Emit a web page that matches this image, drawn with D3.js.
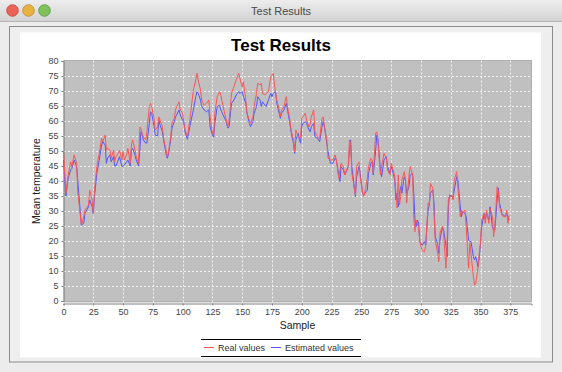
<!DOCTYPE html>
<html>
<head>
<meta charset="utf-8">
<script src="https://cdnjs.cloudflare.com/ajax/libs/d3/7.8.5/d3.min.js"></script>
<style>
  html, body { margin: 0; padding: 0; background: #ececec; }
  svg { display: block; font-family: "Liberation Sans", Arial, sans-serif; }
</style>
</head>
<body>
<svg id="chart" width="562" height="372"></svg>
<script>
// sample index, real temperature, estimated temperature
var samples = [0,2,4,6,7,9,11,12,13,15,17,18,21,22,24,25,26,28,30,32,33,35,36,37,39,40,42,43,44,46,47,49,50,51,53,54,56,57,58,60,61,63,64,65,66,67,69,70,72,73,74,76,77,79,80,81,83,84,86,87,88,90,91,93,94,95,97,98,
  100,101,102,104,106,109,111,112,113,115,116,118,120,122,123,125,126,127,129,131,132,134,136,138,139,141,143,145,147,148,150,151,153,154,156,157,159,160,162,163,165,166,167,169,170,172,174,175,176,178,179,181,182,183,185,187,188,190,191,193,194,195,197,198,199,
  200,201,203,204,206,207,208,210,211,213,214,215,217,218,219,221,222,224,225,226,228,229,231,232,233,235,236,238,239,240,241,242,244,245,246,248,249,251,252,253,255,256,258,259,260,262,263,264,266,267,268,269,271,272,274,275,276,278,279,280,281,282,283,284,286,287,288,290,291,293,294,295,296,297,
  298,299,300,301,303,304,306,307,308,310,311,312,314,315,316,318,319,321,322,323,324,326,327,328,330,331,333,334,335,337,338,340,341,342,344,345,346,348,349,350,351,353,354,355,357,358,360,361,362,364,365,366,368,369,371,372,373,374];

var realValues = [50,36,42,46.4,44.8,48.7,45.9,36,32.6,25.3,28.1,30.3,32,37,33.7,29.2,37,44.8,49.2,54.2,53.1,55.3,50.3,50.9,50.3,47.6,50.3,46.4,48.1,49.2,50.3,47,49.8,47,48.7,50.9,45.9,52,53.7,50.3,48.1,45.9,58,57.6,55.9,54.8,53.7,56.4,64.8,65.9,64.8,60.9,57,58.1,61.4,60.3,58.1,54.2,50.3,48.1,49.2,54.8,59.2,60.9,63.7,64.8,66.4,63.7,
  62.6,59.2,57,54.8,60.3,70.3,73.7,75.9,73.7,70.3,67,65.3,65.9,67,61.4,55.9,55.3,62.6,68.1,69.8,68.7,64.8,61.4,58.1,60.3,69.2,71.4,73.7,75.9,74.2,71.4,73.1,67,62.6,60.3,59.2,61.4,64.8,69.2,72.6,72,72.6,69.2,68.7,69.2,69.8,74.8,75.3,75.9,69.2,67,63.7,61.4,63.7,64.8,68.1,64.8,60.3,57,53.7,49.8,57,54.8,54.2,54.8,
  60.9,61.4,62.6,60.3,58.1,58.7,61.4,63.7,56.4,54.8,54.2,54.2,60.9,61.4,58.1,53.7,47.6,47,47,47,48.7,47,40.9,43.7,45.9,44.8,42,44.2,44.8,53.7,52.6,42.6,37.6,35.3,44.8,46.4,41.4,36.4,34.8,36.4,40.9,44.8,47.6,47,42.6,55.9,56.4,52.6,42,44.8,47,49.2,47.6,43.7,42,45.9,44.8,41.4,35.9,31,42,32,34.8,40.3,43.1,40.3,32.6,42,44.8,42,28,23.1,27,25.9,
  24.5,20.3,18.1,17,16.4,18.6,32.6,32.6,39.2,37.6,29.2,20.3,15.9,13.1,22.6,24.8,22.6,10.9,20.3,33.7,34.8,35.3,33.7,40.3,43.1,38.1,28.1,30.3,29.2,30.3,24.8,10.9,19.2,15.9,8.1,5.3,5.9,11.4,15.9,19.2,27,29.2,25.9,30.3,25.9,30.9,28.1,21.4,24.8,38.1,36.4,31.4,28.7,28.1,28.1,30.3,25.9,28.5];

var estimatedValues = [47,35,41,43.7,44.2,47,44.8,40,35,25.3,25.9,29.2,31.4,33.7,31.4,29.2,34.8,42.6,47,52,53.1,52,45.9,47.6,48.7,46.4,48.1,45,45,47,48.1,44.8,45,45.3,46.4,47,45,50.3,50.9,48.7,47,45,50,56.4,55.5,53.7,52.6,52.6,59.2,63.1,62.6,58.1,55.3,55,60.3,58.7,56.4,53.7,49.2,47.6,48.7,53.7,57.6,59.8,61.4,62,63.7,62,
  60.3,59.8,56.4,53.9,58.1,63.7,68.1,69.8,69.2,67,64.8,63.7,63.1,63.7,58.1,55.3,54.6,59.2,64.8,65.3,63.7,62,60.3,57.6,58.1,65.9,67,68.7,69.8,69.2,69.8,68.1,65.9,62.6,59.2,58.1,59.8,62.6,64.8,68.1,67,64.8,66.4,65.3,64.8,67,69.2,68.1,69.2,69.8,65.9,62.6,60.9,62.6,63.7,65.9,63.7,59.2,56.4,52.6,49.2,53.7,55.9,53.7,52.6,
  58.1,59.2,59.8,59.2,57,56.4,58.1,59.2,54.8,54.2,53.7,53.1,58.1,59.8,58.1,52.6,49.8,45.9,45.9,45.9,47.6,47,42,39.8,44.8,43.7,42,43.7,44.8,50.3,53.7,44.8,38.1,34.8,41.4,44.8,42.6,35.9,35.3,35.9,37,42.6,45.9,46.4,42,50.3,55.3,53.7,43.7,41.4,44.2,47,48.1,44.8,42.6,44.8,43.7,40.3,33.7,36,31.4,36,38.1,35.9,41.4,40.3,35.9,38.1,42,42.6,35.9,27,24.8,27,
  26,19.8,19.2,18.6,19.8,18.6,30.3,32,35.9,37,32.6,21.4,19.2,15.9,20.3,24.8,23.7,18.6,14.8,31.4,35.3,34.8,34.2,37,41.4,40.3,31.4,28.1,29.7,29.2,28.1,20.3,19.8,19.8,14.8,13.7,14.8,11.4,14.8,19.2,24.8,29.2,27,29.2,27,31.4,24.8,23.7,23.7,33.7,37.6,32.6,29.2,28.7,28.1,29.2,28.1,27];

var xTicks = d3.range(0, 376, 25);
var yTicks = d3.range(0, 81, 5);

var svg = d3.select("#chart"),
  width = +svg.attr("width"),
  height = +svg.attr("height");

// window chrome
var defs = svg.append("defs");
var tb = defs.append("linearGradient").attr("id", "titlebar").attr("x1", 0).attr("y1", 0).attr("x2", 0).attr("y2", 1);
tb.append("stop").attr("offset", "0%").attr("stop-color", "#ededed");
tb.append("stop").attr("offset", "100%").attr("stop-color", "#d2d2d2");

svg.append("rect").attr("width", width).attr("height", height).attr("fill", "#ececec");
svg.append("rect").attr("width", width).attr("height", 22).attr("fill", "url(#titlebar)");
svg.append("line").attr("x1", 0).attr("x2", width).attr("y1", 21.5).attr("y2", 21.5).attr("stroke", "#b5b5b5");

var lights = [{x: 12.5, c: "#ec6158", s: "#c1423c"}, {x: 28.5, c: "#e6b343", s: "#bd8d27"}, {x: 44.5, c: "#7fc15b", s: "#529a36"}];
svg.selectAll("circle.light")
  .data(lights)
  .enter().append("circle")
  .attr("class", "light")
  .attr("cx", function (d) { return d.x; })
  .attr("cy", 10.5)
  .attr("r", 5.8)
  .attr("fill", function (d) { return d.c; })
  .attr("stroke", function (d) { return d.s; })
  .attr("stroke-width", 0.8);

svg.append("text")
  .attr("x", 281).attr("y", 14.5)
  .attr("text-anchor", "middle")
  .attr("font-size", 11)
  .attr("fill", "#4a4a4a")
  .text("Test Results");

svg.append("rect")
  .attr("x", 9.5).attr("y", 26.5).attr("width", 543).attr("height", 335.5)
  .attr("fill", "#eeeeee").attr("stroke", "#8c8c8c");
svg.append("rect")
  .attr("x", 20).attr("y", 32.5).attr("width", 521).attr("height", 325)
  .attr("fill", "#ffffff");

// chart title
svg.append("text")
  .attr("x", 281).attr("y", 51)
  .attr("text-anchor", "middle")
  .attr("font-size", 17)
  .attr("font-weight", "bold")
  .attr("fill", "#000")
  .text("Test Results");

var x = d3.scaleLinear().domain([0, 392.8]).range([63.5, 531.5]);
var y = d3.scaleLinear().domain([0, 80]).range([301, 61]);

// plot background
svg.append("rect")
  .attr("x", 64).attr("y", 60.5)
  .attr("width", 467.5).attr("height", 241.5)
  .attr("fill", "#c0c0c0")
  .attr("stroke", "#808080")
  .attr("stroke-width", 0.5);

var grid = svg.append("g").attr("class", "grid");
grid.selectAll("line.h")
  .data(yTicks.filter(function (d) { return d > 0 && d < 80; }))
  .enter().append("line")
  .attr("x1", 64).attr("x2", 531.5)
  .attr("y1", function (d) { return Math.round(y(d)) + 0.5; })
  .attr("y2", function (d) { return Math.round(y(d)) + 0.5; })
  .attr("stroke", "#f2f2f2")
  .attr("stroke-dasharray", "2,2");
grid.selectAll("line.v")
  .data(xTicks.filter(function (d) { return d > 0; }))
  .enter().append("line")
  .attr("y1", 60.5).attr("y2", 302)
  .attr("x1", function (d) { return Math.round(x(d)) + 0.5; })
  .attr("x2", function (d) { return Math.round(x(d)) + 0.5; })
  .attr("stroke", "#f2f2f2")
  .attr("stroke-dasharray", "2,2");

// axes
var xAxis = d3.axisBottom(x).tickValues(xTicks).tickSize(2).tickPadding(3);
var yAxis = d3.axisLeft(y).tickValues(yTicks).tickSize(2).tickPadding(3);

var gx = svg.append("g").attr("transform", "translate(0,303.5)").call(xAxis);
var gy = svg.append("g").attr("transform", "translate(63.5,0)").call(yAxis);
[gx, gy].forEach(function (g) {
  g.select(".domain").attr("stroke", "#808080");
  g.selectAll(".tick line").attr("stroke", "#808080");
  g.selectAll(".tick text")
    .attr("font-family", "'Liberation Sans', Arial, sans-serif")
    .attr("font-size", 9)
    .attr("fill", "#444");
});

svg.append("text")
  .attr("x", 297.5).attr("y", 328.5)
  .attr("text-anchor", "middle")
  .attr("font-size", 10.5)
  .attr("fill", "#222")
  .text("Sample");

svg.append("text")
  .attr("transform", "translate(40,181) rotate(-90)")
  .attr("text-anchor", "middle")
  .attr("font-size", 10.5)
  .attr("fill", "#222")
  .text("Mean temperature");

// series
var line = function (vals) {
  return d3.line()
    .x(function (d, i) { return x(samples[i]); })
    .y(function (d) { return y(d); })(vals);
};

svg.append("path")
  .attr("d", line(estimatedValues))
  .attr("fill", "none")
  .attr("stroke", "#5555ff")
  .attr("stroke-width", 1);

svg.append("path")
  .attr("d", line(realValues))
  .attr("fill", "none")
  .attr("stroke", "#ff5555")
  .attr("stroke-width", 1);

// legend
var legend = svg.append("g");
legend.append("line").attr("x1", 201).attr("x2", 361).attr("y1", 339.5).attr("y2", 339.5).attr("stroke", "#000");
legend.append("line").attr("x1", 201).attr("x2", 361).attr("y1", 356.5).attr("y2", 356.5).attr("stroke", "#000");

var items = [
  {name: "Real values", color: "#ff5555", x: 204},
  {name: "Estimated values", color: "#5555ff", x: 271}
];
var item = legend.selectAll("g.item")
  .data(items)
  .enter().append("g")
  .attr("class", "item")
  .attr("transform", function (d) { return "translate(" + d.x + ",347.5)"; });
item.append("line")
  .attr("x1", 0).attr("x2", 10)
  .attr("y1", 0).attr("y2", 0)
  .attr("stroke-width", 1)
  .attr("stroke", function (d) { return d.color; });
item.append("text")
  .attr("x", 14).attr("y", 3.5)
  .attr("font-size", 9)
  .attr("fill", "#333")
  .text(function (d) { return d.name; });
</script>
</body>
</html>
